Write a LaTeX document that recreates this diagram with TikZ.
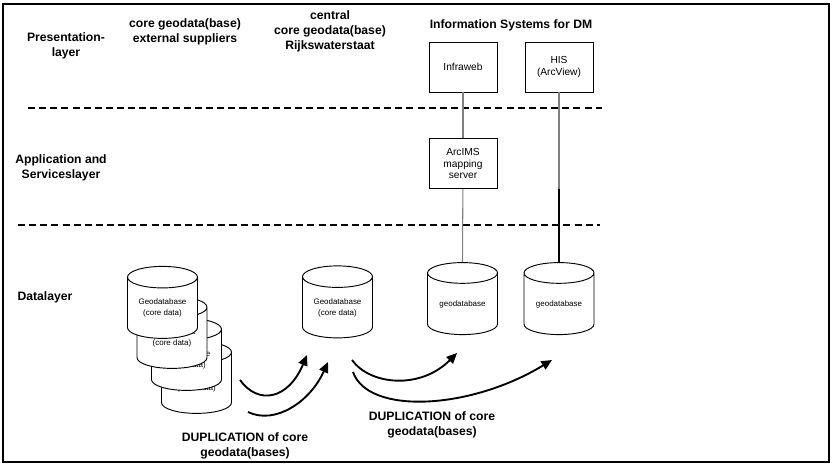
\documentclass[tikz,border=0pt]{standalone}
\usepackage{fontspec}
\setmainfont{Liberation Sans}
\usetikzlibrary{shapes.geometric,arrows.meta}

\begin{document}
\begin{tikzpicture}[x=0.03cm,y=-0.03cm,
    layerlabel/.style={font=\fontsize{10.4}{12.8}\selectfont\bfseries, align=center},
    sysbox/.style={draw, fill=white, line width=0.8pt, minimum width=2.04cm, minimum height=1.5cm, inner sep=0pt, align=center, font=\fontsize{8.7}{10}\selectfont},
    dbcyl/.style={cylinder, shape border rotate=90, aspect=0.45, draw, fill=white, line width=0.8pt, minimum width=2.1cm, minimum height=2.16cm, inner sep=0pt, align=center, font=\fontsize{6.8}{9.5}\selectfont},
    link/.style={line width=0.9pt, color={rgb,255:red,128; green,128; blue,128}},
    duparrow/.style={line width=1.6pt, -{Triangle[length=9pt,width=8pt]}},
    divider/.style={line width=2.2pt, dash pattern=on 6pt off 3.5pt}]

        \useasboundingbox (0,0) rectangle (832,465);

        % Frame
        \draw[line width=1.4pt] (3,4) rectangle (829,462);

        % Layer dividers
        \draw[divider] (28,108) -- (602,108);
        \draw[divider] (18,225) -- (600,225);

        % Layer labels
        \node[layerlabel] (preslayer) at (66,46) {Presentation-\\layer};
        \node[layerlabel] (applayer) at (61,168) {Application and\\Serviceslayer};
        \node[layerlabel] (datalayer) at (45,297) {Datalayer};

        % Column headings
        \node[layerlabel] (external) at (185,32) {core geodata(base)\\external suppliers};
        \node[layerlabel] (central) at (330,31) {central\\core geodata(base)\\Rijkswaterstaat};
        \node[layerlabel] (infosys) at (511,25) {Information Systems for DM};

        % Information systems and services
        \node[sysbox] (infraweb) at (463,67) {Infraweb};
        \node[sysbox] (his) at (559,67) {HIS\\(ArcView)};
        \node[sysbox] (arcims) at (463,163.5) {ArcIMS\\mapping\\server};

        % Stack of supplier databases (back to front)
        \node[dbcyl] (extdb4) at (196.5,383) {Geodatabase\\(core data)};
        \node[dbcyl] (extdb3) at (186.5,360) {Geodatabase\\(core data)};
        \node[dbcyl] (extdb2) at (172,338) {Geodatabase\\(core data)};
        \node[dbcyl] (extdb1) at (162.5,308) {Geodatabase\\(core data)};

        % Central and system databases
        \node[dbcyl] (centraldb) at (337.5,307.5) {Geodatabase\\(core data)};
        \node[dbcyl] (infradb) at (462.5,304) {geodatabase};
        \node[dbcyl] (hisdb) at (559,304) {geodatabase};

        % Links
        \coordinate (hisjoin) at (his.south |- arcims.south);
        \draw[link] (infraweb) -- (arcims);
        \draw[link] (arcims) -- (infradb.north);
        \draw[link] (his) -- (hisjoin);
        \draw[line width=1.3pt] (hisjoin) -- (hisdb.north);

        % Duplication arrows
        \coordinate (dupAs) at (240,380);
        \coordinate (dupAe) at (307,355);
        \coordinate (dupBs) at (248,412);
        \coordinate (dupBe) at (328,362);
        \coordinate (dupCs) at (352,360);
        \coordinate (dupCe) at (457,353);
        \coordinate (dupDs) at (353,372);
        \coordinate (dupDe) at (552,360);
        \draw[duparrow] (dupAs) .. controls (258,405) and (288,400) .. (dupAe);
        \draw[duparrow] (dupBs) .. controls (275,425) and (310,402) .. (dupBe);
        \draw[duparrow] (dupCs) .. controls (370,385) and (420,390) .. (dupCe);
        \draw[duparrow] (dupDs) .. controls (368,415) and (470,410) .. (dupDe);

        \node[layerlabel] (dup1) at (245,446) {DUPLICATION of core\\geodata(bases)};
        \node[layerlabel] (dup2) at (432,425) {DUPLICATION of core\\geodata(bases)};

    \end{tikzpicture}
\end{document}
